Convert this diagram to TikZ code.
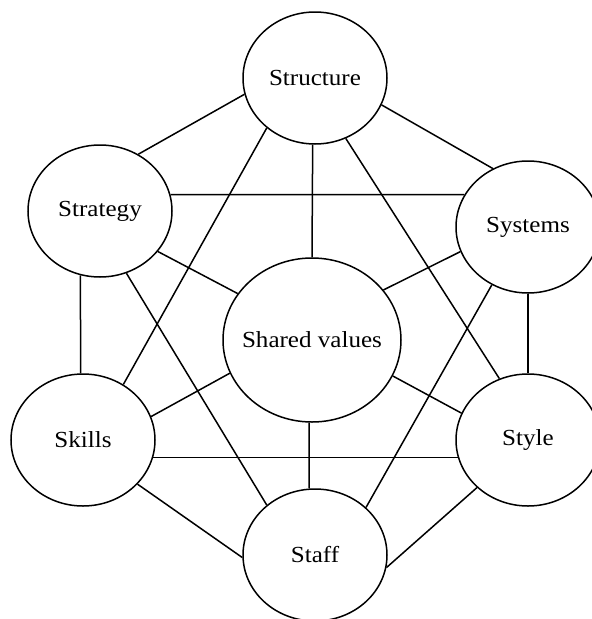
\documentclass[tikz,border=0pt]{standalone}
\usepackage{fontspec}
\setmainfont{Liberation Serif}[FakeStretch=1.09]
\usetikzlibrary{shapes.geometric}
\begin{document}
\begin{tikzpicture}[x=1pt,y=-1pt,
  font=\fontsize{23}{27}\selectfont,
  sbox/.style={ellipse, draw, line width=1.5pt, minimum width=144pt, minimum height=132pt, inner sep=0pt},
  bigbox/.style={sbox, minimum width=178pt, minimum height=164pt},
  link/.style={line width=1.5pt}]
\useasboundingbox (0,0) rectangle (592,619);
\node[sbox, label=center:Structure] (structure) at (315,78) {};
\node[sbox, label=center:Strategy] (strategy) at (100,211) {};
\node[sbox, label=center:Systems] (systems) at (528,227) {};
\node[bigbox, label=center:Shared values] (sv) at (312,340) {};
\node[sbox, label=center:Skills] (skills) at (83,440) {};
\node[sbox, label=center:Style] (style) at (528,440) {};
\node[sbox, label=center:Staff] (staff) at (315,555) {};
\draw[link] (structure.193) -- (strategy.56);
\draw[link] (structure.338) -- (systems.121);
\draw[link] (structure.268) -- (sv.90);
\draw[link] (structure.226) -- (skills.54);
\draw[link] (structure.297) -- (style.115);
\draw[link] (strategy.13) -- (systems.153);
\draw[link] (strategy.325) -- (sv.148);
\draw[link] (strategy.253) -- (skills.92);
\draw[link] (strategy.293) -- (staff.134);
\draw[link] (systems.200) -- (sv.35);
\draw[link] (systems.270) -- (style.90);
\draw[link] (systems.238) -- (staff.43);
\draw[link] (sv.202) -- (skills.19);
\draw[link] (sv.336) -- (style.158);
\draw[link] (sv.268) -- (staff.95);
\draw[link] (skills.346) -- (style.194);
\draw[link] (skills.321) -- (staff.182);
\draw[link] (style.223) -- (staff.350);
\end{tikzpicture}
\end{document}
